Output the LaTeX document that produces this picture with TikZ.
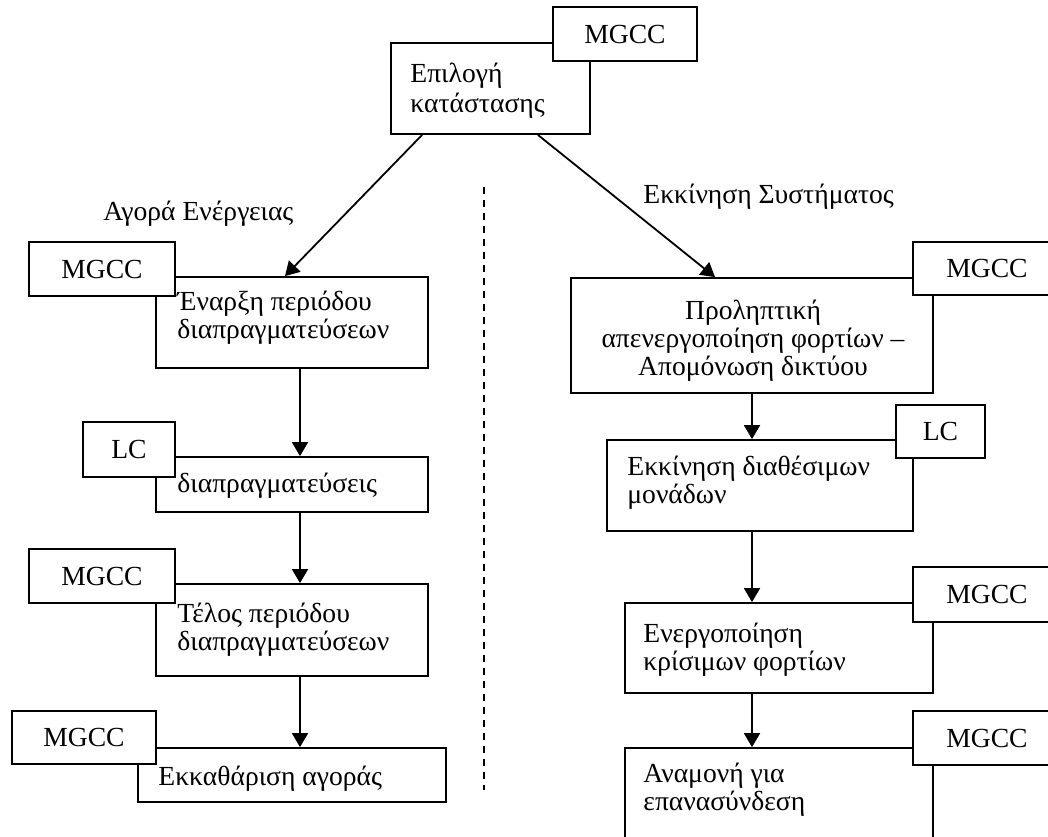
\documentclass[tikz,border=0pt]{standalone}
\usepackage{fontspec}
\setmainfont{Liberation Serif}
\usetikzlibrary{arrows.meta,calc,fit}
\begin{document}
\begin{tikzpicture}[x=0.5pt,y=-0.5pt,
  box/.style={draw, line width=0.9pt, rectangle, inner sep=0pt},
  tag/.style={box, fill=white},
  tagtext/.style={inner sep=0pt, font=\fontsize{13.8}{14}\selectfont},
  % multi-line texts are placed by the baseline of their last line
  txt/.style={anchor=base west, inner sep=0pt, align=left, font=\fontsize{13.8}{14}\selectfont},
  ctxt/.style={txt, anchor=base, align=center},
  arr/.style={line width=0.9pt, -{Triangle[length=7pt,width=8pt]}},
  divider/.style={line width=0.8pt, dash pattern=on 3.5pt off 3pt},
]
\useasboundingbox (0,0) rectangle (1048,836);
\clip (0,0) rectangle (1048,836);

% ---- top: state selection ----
\node[box, fit={(391,43) (590,134)}] (top) {};
\node[tag, fit={(553,7) (697,61)}] (topTag) {};
\node[tagtext] (topTagT) at (topTag.center) {MGCC};
\node[txt, font=\fontsize{13.8}{15}\selectfont] (topT) at (410,112) {Επιλογή\\κατάστασης};

% ---- branch labels and divider ----
\node[txt] (lblL) at (103,220) {Αγορά Ενέργειας};
\node[txt] (lblR) at (643,203) {Εκκίνηση Συστήματος};
\coordinate (d1) at (484,187);
\coordinate (d2) at (484,790);
\draw[divider] (d1) -- (d2);

% ---- left column: energy market ----
\node[box, fit={(156,277) (428,368)}] (l1) {};
\node[tag, fit={(29,242) (175,296)}] (l1Tag) {};
\node[tagtext] at (l1Tag.center) (l1TagT) {MGCC};
\node[txt] (l1T) at (177,338) {Έναρξη περιόδου\\διαπραγματεύσεων};

\node[box, fit={(156,457) (428,512)}] (l2) {};
\node[tag, fit={(83,422) (175,477)}] (l2Tag) {};
\node[tagtext] at (l2Tag.center) (l2TagT) {LC};
\node[txt] (l2T) at (177,492) {διαπραγματεύσεις};

\node[box, fit={(156,584) (428,676)}] (l3) {};
\node[tag, fit={(29,549) (175,603)}] (l3Tag) {};
\node[tagtext] at (l3Tag.center) (l3TagT) {MGCC};
\node[txt] (l3T) at (177,650) {Τέλος περιόδου\\διαπραγματεύσεων};

\node[box, fit={(138,748) (446,802)}] (l4) {};
\node[tag, fit={(12,711) (156,764)}] (l4Tag) {};
\node[tagtext] at (l4Tag.center) (l4TagT) {MGCC};
\node[txt] (l4T) at (158,785) {Εκκαθάριση αγοράς};

% ---- right column: system start-up ----
\node[box, fit={(571,278) (933,393)}] (r1) {};
\node[tag, fit={(913,242) (1061,295)}] (r1Tag) {};
\node[tagtext] at (r1Tag.center) (r1TagT) {MGCC};
\node[ctxt] (r1T) at (753,375) {Προληπτική\\απενεργοποίηση φορτίων –\\Απομόνωση δικτύου};

\node[box, fit={(607,440) (913,531)}] (r2) {};
\node[tag, fit={(896,405) (985,458)}] (r2Tag) {};
\node[tagtext] at (r2Tag.center) (r2TagT) {LC};
\node[txt] (r2T) at (627,503) {Εκκίνηση διαθέσιμων\\μονάδων};

\node[box, fit={(625,603) (933,693)}] (r3) {};
\node[tag, fit={(913,567) (1061,622)}] (r3Tag) {};
\node[tagtext] at (r3Tag.center) (r3TagT) {MGCC};
\node[txt] (r3T) at (643,670) {Ενεργοποίηση\\κρίσιμων φορτίων};

\node[box, fit={(625,748) (933,900)}] (r4) {};
\node[tag, fit={(913,711) (1061,765)}] (r4Tag) {};
\node[tagtext] at (r4Tag.center) (r4TagT) {MGCC};
\node[txt] (r4T) at (643,810) {Αναμονή για\\επανασύνδεση};

% ---- connectors ----
\draw[arr] ($(top.south west)+(32,0)$) -- ($(l1.north)+(-7,0)$);
\draw[arr] ($(top.south east)+(-53,0)$) -- ($(r1.north)+(-37,0)$);

\draw[arr] ([xshift=4pt]l1.south) -- ([xshift=4pt]l2.north);
\draw[arr] ([xshift=4pt]l2.south) -- ([xshift=4pt]l3.north);
\draw[arr] ([xshift=4pt]l3.south) -- ([xshift=4pt]l4.north);

\draw[arr] (r1.south) -- (r1.south |- r2.north);
\draw[arr] (r1.south |- r2.south) -- (r1.south |- r3.north);
\draw[arr] (r1.south |- r3.south) -- (r1.south |- r4.north);
\end{tikzpicture}
\end{document}
